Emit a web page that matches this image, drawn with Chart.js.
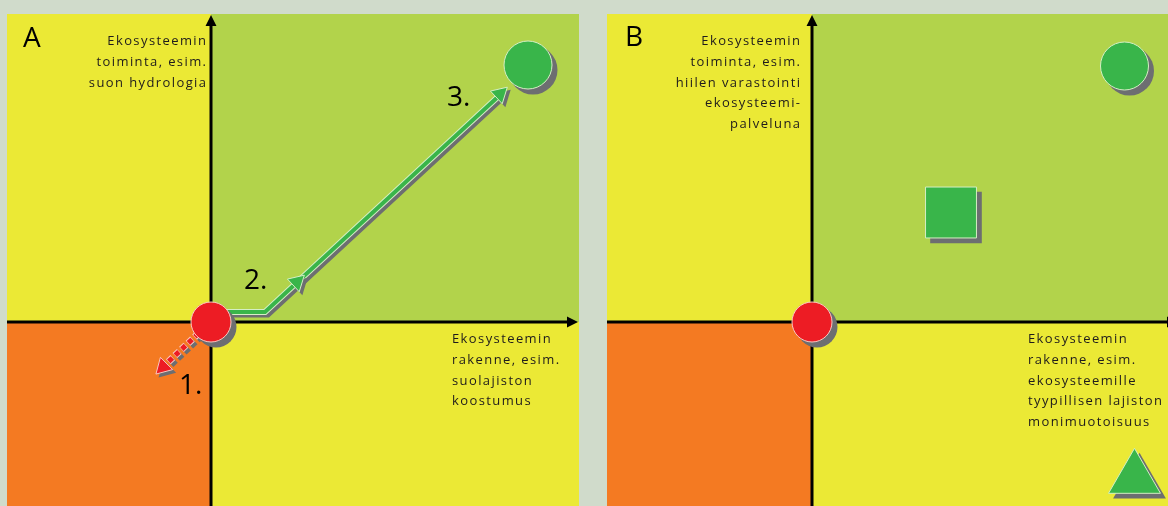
<!DOCTYPE html>
<html>
<head>
<meta charset="utf-8">
<script src="https://cdn.jsdelivr.net/npm/chart.js@4/dist/chart.umd.min.js"></script>
<style>
  html, body { margin: 0; padding: 0; }
  body { width: 1168px; height: 506px; overflow: hidden; background: #d0dbcb; position: relative; }
  .panel { position: absolute; top: 14px; }
  #panelA { left: 7px; }
  #panelB { left: 607px; }
</style>
</head>
<body>
<canvas id="panelA" class="panel" width="572" height="492"></canvas>
<canvas id="panelB" class="panel" width="572" height="492"></canvas>
<script>
// Quadrants: sign of x (rakenne) and y (toiminta)
var quadrantSignX = [-1, 1, -1, 1];
var quadrantSignY = [1, 1, -1, -1];

// Axis ranges, 1 unit = 100 px
var rangeXA = [-2.04, 3.68];
var rangeXB = [-2.05, 3.67];
var rangeY = [-1.84, 3.08];

// Panel A
var aStart = [{x: 0, y: 0}];
var aGoal = [{x: 3.17, y: 2.57}];
var aRestoreRoute = [{x: 0.15, y: 0.1}, {x: 0.54, y: 0.1}, {x: 2.9, y: 2.28}];
var aRestoreHeads = [{x: 0.86, y: 0.4}, {x: 2.89, y: 2.28}];
var aDeclineRoute = [{x: -0.12, y: -0.11}, {x: -0.44, y: -0.41}];
var aDeclineHead = [{x: -0.48, y: -0.45}];
var aStepLabels = ['1.', '2.', '3.'];
var aStepX = [-0.32, 0.33, 2.36];
var aStepY = [-0.72, 0.33, 2.16];
var aYTitle = ['Ekosysteemin', 'toiminta, esim.', 'suon hydrologia'];
var aXTitle = ['Ekosysteemin', 'rakenne, esim.', 'suolajiston', 'koostumus'];

// Panel B
var bStart = [{x: 0, y: 0}];
var bCircle = [{x: 3.125, y: 2.56}];
var bSquare = [{x: 1.39, y: 1.095}];
var bTriangle = [{x: 3.225, y: -1.563}];
var bYTitle = ['Ekosysteemin', 'toiminta, esim.', 'hiilen varastointi', 'ekosysteemi-', 'palveluna'];
var bXTitle = ['Ekosysteemin', 'rakenne, esim.', 'ekosysteemille', 'tyypillisen lajiston', 'monimuotoisuus'];

var colors = {
  quadrants: ['#ebe935', '#b2d34b', '#f47a22', '#ebe935'],
  red: '#ed1c24',
  redEdge: '#f9c8c0',
  green: '#39b54a',
  greenEdge: '#d4efc4',
  shadow: '#6d6e71',
  text: '#1e1b1c'
};
var smallFont = '13px "Open Sans"';
var bigFont = '28px "Open Sans"';

var backgroundPlugin = {
  id: 'background',
  beforeDatasetsDraw(chart) {
    var ctx = chart.ctx, xs = chart.scales.x, ys = chart.scales.y;
    var x0 = xs.getPixelForValue(0), y0 = ys.getPixelForValue(0);
    var left = xs.getPixelForValue(xs.min), right = xs.getPixelForValue(xs.max);
    var top = ys.getPixelForValue(ys.max), bottom = ys.getPixelForValue(ys.min);
    ctx.save();
    quadrantSignX.forEach((sx, i) => {
      var sy = quadrantSignY[i];
      var xa = sx < 0 ? left : x0, xb = sx < 0 ? x0 : right;
      var ya = sy > 0 ? top : y0, yb = sy > 0 ? y0 : bottom;
      ctx.fillStyle = colors.quadrants[i];
      ctx.fillRect(xa, ya, xb - xa, yb - ya);
    });

    // axes with arrows
    ctx.strokeStyle = '#000';
    ctx.fillStyle = '#000';
    ctx.lineWidth = 3;
    ctx.beginPath();
    ctx.moveTo(x0, bottom);
    ctx.lineTo(x0, top + 8);
    ctx.moveTo(left, y0);
    ctx.lineTo(right - 8, y0);
    ctx.stroke();
    ctx.beginPath();
    ctx.moveTo(x0, top + 1);
    ctx.lineTo(x0 - 5.5, top + 12);
    ctx.lineTo(x0 + 5.5, top + 12);
    ctx.closePath();
    ctx.moveTo(right - 1, y0);
    ctx.lineTo(right - 12, y0 - 5.5);
    ctx.lineTo(right - 12, y0 + 5.5);
    ctx.closePath();
    ctx.fill();
    ctx.restore();
  }
};

// shadow copies are the same dataset drawn grey and nudged down-right
var shadowPlugin = {
  id: 'shadow',
  beforeDatasetDraw(chart, args) {
    var ds = chart.data.datasets[args.index];
    chart.ctx.save();
    if (ds.nudge) {
      chart.ctx.translate(ds.nudge, ds.nudge);
    }
  },
  afterDatasetDraw(chart) {
    chart.ctx.restore();
  }
};

var textPlugin = {
  id: 'texts',
  afterDatasetsDraw(chart, args, opts) {
    var ctx = chart.ctx, xs = chart.scales.x, ys = chart.scales.y;
    ctx.save();
    ctx.textBaseline = 'alphabetic';
    (opts.items || []).forEach(item => {
      ctx.font = item.big ? bigFont : smallFont;
      ctx.letterSpacing = item.big ? '0px' : '1.4px';
      ctx.fillStyle = item.big ? '#000' : colors.text;
      ctx.textAlign = item.align || 'left';
      var x = xs.getPixelForValue(item.x) + (item.align === 'right' ? 1.4 : 0);
      var y = ys.getPixelForValue(item.y);
      item.lines.forEach((line, i) => {
        ctx.fillText(line, x, y + i * 20.8);
      });
    });
    ctx.restore();
  }
};

function lineSet(data, color, width, dash, dashOffset, nudge) {
  return {
    data: data, showLine: true, borderColor: color, borderWidth: width,
    borderDash: dash || [], borderDashOffset: dashOffset || 0,
    pointRadius: 0, pointHoverRadius: 0, fill: false, tension: 0,
    borderJoinStyle: 'miter', borderCapStyle: 'butt', nudge: nudge || 0
  };
}

function markSet(data, style, radius, fill, edge, rotation, nudge) {
  return {
    data: data, showLine: false, pointStyle: style, pointRadius: radius, pointHoverRadius: radius,
    pointBackgroundColor: fill, pointBorderColor: edge, pointBorderWidth: edge ? 1 : 0,
    pointRotation: rotation || 0, nudge: nudge || 0
  };
}

// mark with its grey drop shadow under it
function shadowedMark(data, style, radius, fill, edge, rotation, nudge) {
  return [
    markSet(data, style, radius + 0.5, colors.shadow, null, rotation, nudge),
    markSet(data, style, radius, fill, edge, rotation)
  ];
}

function makeChart(id, rangeX, datasets, texts) {
  // later datasets are drawn on top
  datasets.forEach((d, i) => { d.order = -i; });
  return new Chart(document.getElementById(id), {
    type: 'scatter',
    data: { datasets: datasets },
    options: {
      responsive: false,
      animation: false,
      events: [],
      layout: { padding: 0, autoPadding: false },
      plugins: { legend: { display: false }, tooltip: { enabled: false }, texts: { items: texts } },
      scales: {
        x: { type: 'linear', display: false, min: rangeX[0], max: rangeX[1] },
        y: { type: 'linear', display: false, min: rangeY[0], max: rangeY[1] }
      }
    },
    plugins: [backgroundPlugin, shadowPlugin, textPlugin]
  });
}

var aTexts = [
  { lines: ['A'], x: -1.88, y: 2.75, big: true },
  { lines: aYTitle, x: -0.05, y: 2.77, align: 'right' },
  { lines: aXTitle, x: 2.41, y: -0.21 }
];
aStepLabels.forEach((l, i) => aTexts.push({ lines: [l], x: aStepX[i], y: aStepY[i], big: true }));

makeChart('panelA', rangeXA, [
  lineSet(aDeclineRoute, colors.shadow, 6, [6, 3], 0, 3),
  lineSet(aDeclineRoute, colors.redEdge, 7, [6, 3], 0),
  lineSet(aDeclineRoute, colors.red, 5, [5, 4], -0.5),
  ...shadowedMark(aDeclineHead, 'triangle', 10, colors.red, colors.redEdge, 225, 3),
  lineSet(aRestoreRoute, colors.shadow, 5, null, 0, 3),
  lineSet(aRestoreRoute, colors.greenEdge, 6),
  lineSet(aRestoreRoute, colors.green, 4),
  ...shadowedMark(aRestoreHeads, 'triangle', 10, colors.green, colors.greenEdge, 47, 3),
  ...shadowedMark(aGoal, 'circle', 24, colors.green, colors.greenEdge, 0, 5),
  ...shadowedMark(aStart, 'circle', 20, colors.red, colors.redEdge, 0, 5)
], aTexts);

makeChart('panelB', rangeXB, [
  ...shadowedMark(bSquare, 'rect', 36, colors.green, colors.greenEdge, 0, 5),
  ...shadowedMark(bTriangle, 'triangle', 30, colors.green, colors.greenEdge, 0, 5),
  ...shadowedMark(bCircle, 'circle', 24, colors.green, colors.greenEdge, 0, 5),
  ...shadowedMark(bStart, 'circle', 20, colors.red, colors.redEdge, 0, 5)
], [
  { lines: ['B'], x: -1.87, y: 2.76, big: true },
  { lines: bYTitle, x: -0.12, y: 2.77, align: 'right' },
  { lines: bXTitle, x: 2.16, y: -0.21 }
]);
</script>
</body>
</html>
